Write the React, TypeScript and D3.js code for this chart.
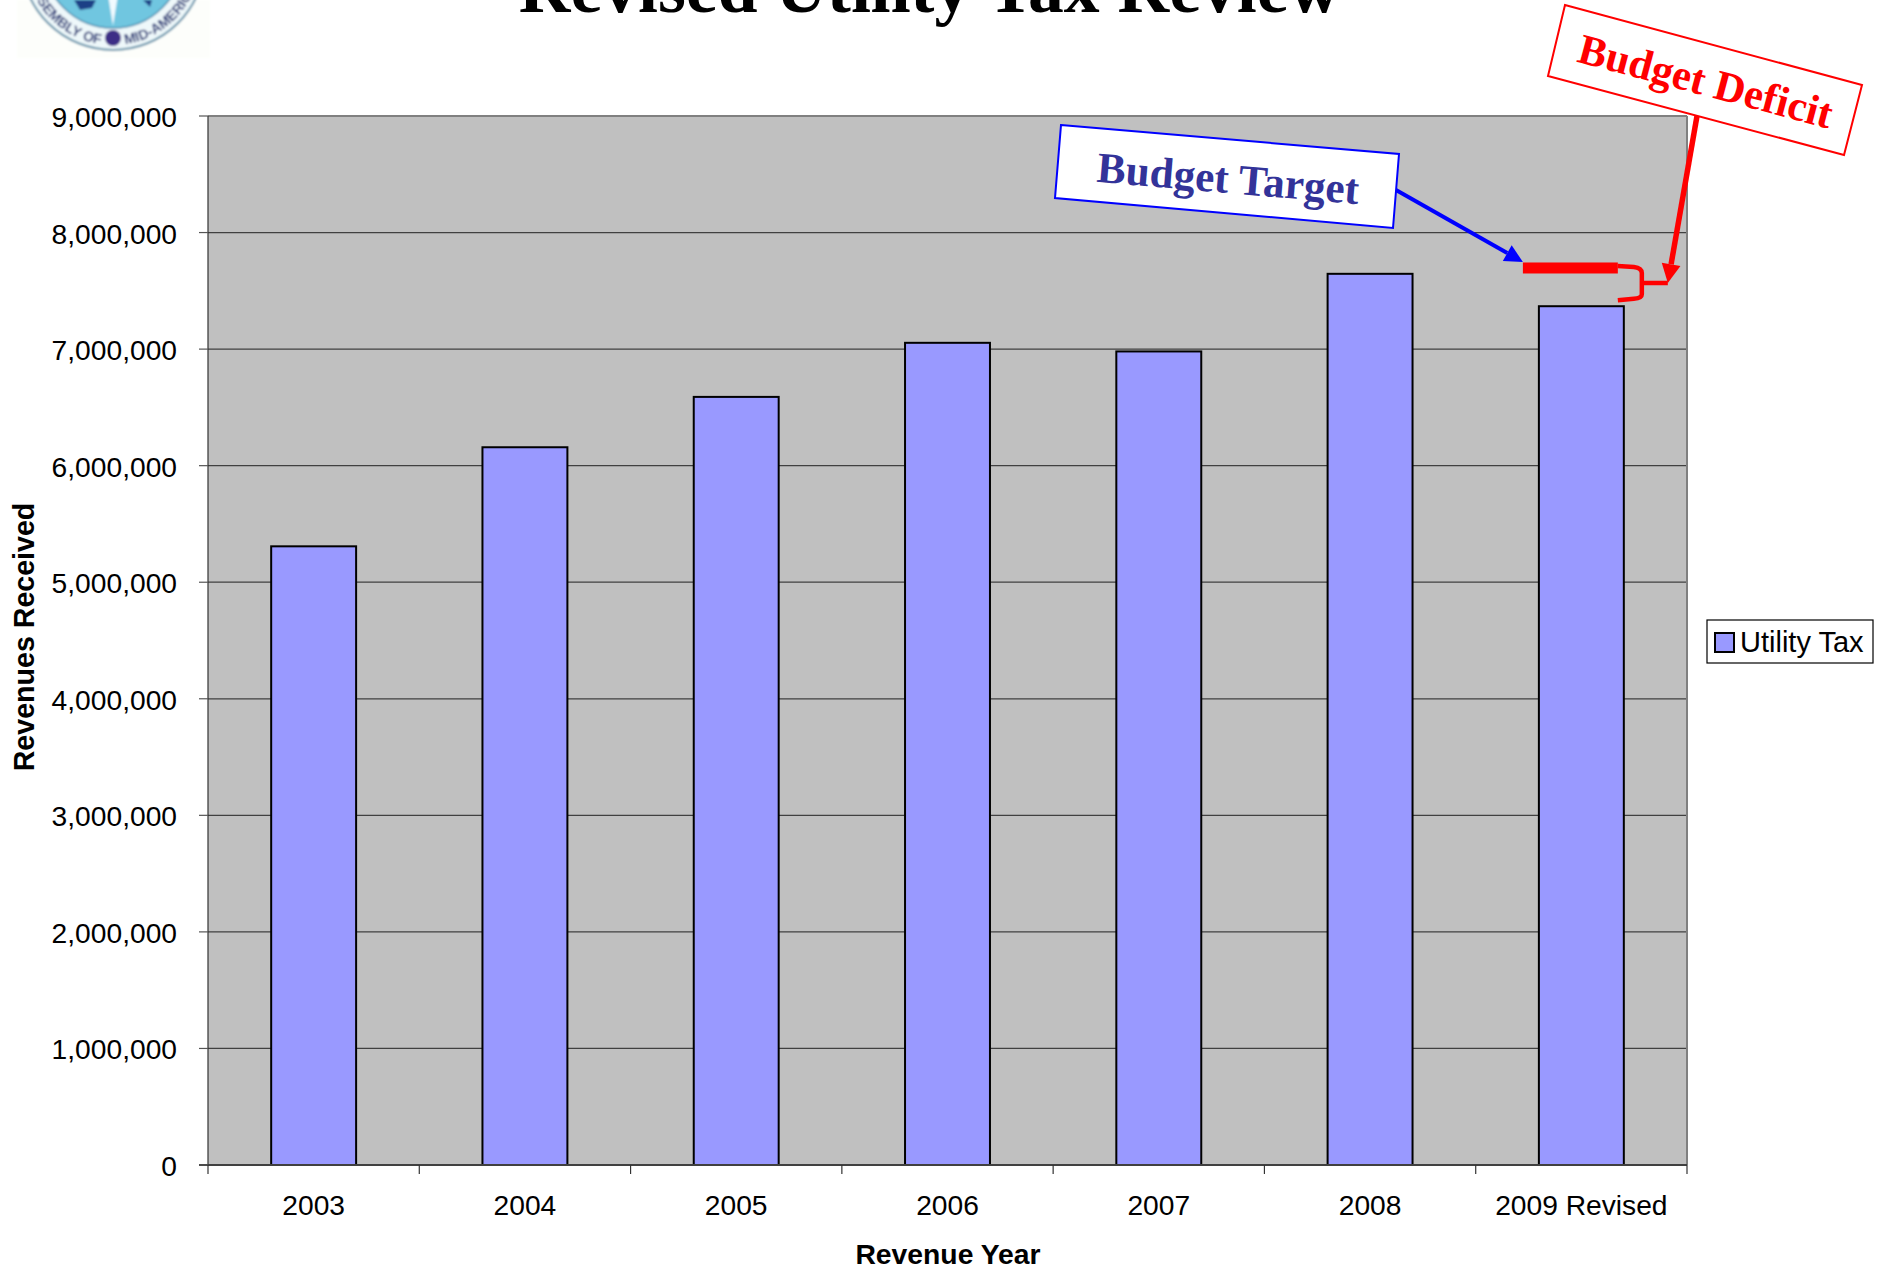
import React from "react";
import * as d3 from "d3";

const years = ["2003", "2004", "2005", "2006", "2007", "2008", "2009 Revised"];
const utilityTax = [5308000, 6158000, 6590000, 7054000, 6980000, 7646000, 7368000];
const budgetTarget = 7696000;
const yTicks = [0, 1000000, 2000000, 3000000, 4000000, 5000000, 6000000, 7000000, 8000000, 9000000];

const W = 1881;
const H = 1269;
const plot = { left: 208, right: 1687, top: 116, bottom: 1165 };

const x = d3.scaleBand<string>().domain(years).range([plot.left, plot.right]).paddingInner(0.598).paddingOuter(0.299);
const y = d3.scaleLinear().domain([0, 9000000]).range([plot.bottom, plot.top]);
const fmt = d3.format(",");
const step = x.step();

const SANS = "'Liberation Sans', Arial, sans-serif";
const SERIF = "'Liberation Serif', 'Times New Roman', serif";
const TICK_SIZE = 28.2;

function Arrow({ x1, y1, x2, y2, color, width, head, spread }: any) {
  // Straight line ending in a filled triangular head whose tip sits at (x2, y2)
  const a = Math.atan2(y2 - y1, x2 - x1);
  const bx = x2 - head * Math.cos(a);
  const by = y2 - head * Math.sin(a);
  const nx = -Math.sin(a) * spread;
  const ny = Math.cos(a) * spread;
  return (
    <g>
      <line x1={x1} y1={y1} x2={bx} y2={by} stroke={color} strokeWidth={width} />
      <polygon points={`${x2},${y2} ${bx + nx},${by + ny} ${bx - nx},${by - ny}`} fill={color} />
    </g>
  );
}

function Seal() {
  const cx = 113;
  const cy = -42;
  const r = 87;
  return (
    <g filter="url(#sealSoft)">
      <rect x={17} y={0} width={193} height={58} fill="#fdfefb" />
      <circle cx={cx} cy={cy} r={92} fill="#eef8fa" stroke="#5f8fa8" strokeWidth={2} />
      <circle cx={cx} cy={cy} r={70} fill="#6fc6e0" stroke="#4f8fb0" strokeWidth={1.5} />
      <path d="M113 26 L108 -5 L118 -5 Z" fill="#f2fbff" />
      <path d="M74 0 L96 0 L92 8 L80 10 Z" fill="#1f3f86" />
      <path d="M143 0 L152 0 L150 7 Z" fill="#1f3f86" />
      <circle cx={cx} cy={38} r={8} fill="#3d2f86" />
      <path id="sealRing" d={`M ${cx - r} ${cy} A ${r} ${r} 0 0 0 ${cx + r} ${cy}`} fill="none" />
      <text fontFamily={SANS} fontWeight={700} fontSize={14} fill="#2c3a78">
        <textPath href="#sealRing" startOffset="45.5%" textAnchor="end">
          ASSEMBLY OF
        </textPath>
      </text>
      <text fontFamily={SANS} fontWeight={700} fontSize={14} fill="#2c3a78">
        <textPath href="#sealRing" startOffset="54.5%" textAnchor="start">
          MID-AMERICA
        </textPath>
      </text>
    </g>
  );
}

export default function App() {
  const lastBar = x(years[6])! as number;
  const barW = x.bandwidth();
  const targetY = y(budgetTarget);
  const lastTop = y(utilityTax[6]);
  const targetLeft = lastBar - 16;
  const targetRight = lastBar + barW - 6;
  const braceX = targetRight + 24;
  const braceMid = targetY + 15;
  const braceTip = braceX + 26;

  return (
    <svg
      width={W}
      height={H}
      viewBox={`0 0 ${W} ${H}`}
      style={{ position: "absolute", left: 0, top: 0, display: "block", background: "#fff" }}
    >
      <defs>
        <filter id="sealSoft" x="-5%" y="-5%" width="110%" height="110%">
          <feGaussianBlur stdDeviation="0.8" />
        </filter>
      </defs>
      <Seal />
      <text x={929.5} y={12} textAnchor="middle" fontFamily={SERIF} fontWeight={700} fontSize={71.6} fill="#000">
        Revised Utility Tax Review
      </text>

      <rect x={plot.left} y={plot.top} width={plot.right - plot.left} height={plot.bottom - plot.top} fill="#c0c0c0" />

      {yTicks.slice(1, -1).map((t) => (
        <line key={t} x1={plot.left} x2={plot.right} y1={y(t)} y2={y(t)} stroke="#404040" strokeWidth={1.2} />
      ))}
      <line x1={plot.left} x2={plot.right} y1={plot.top} y2={plot.top} stroke="#808080" strokeWidth={2} />
      <line x1={plot.right} x2={plot.right} y1={plot.top} y2={plot.bottom} stroke="#808080" strokeWidth={2} />

      {years.map((c, i) => (
        <rect
          key={c}
          x={x(c)}
          y={y(utilityTax[i])}
          width={barW}
          height={plot.bottom - y(utilityTax[i])}
          fill="#9999ff"
          stroke="#000"
          strokeWidth={2}
        />
      ))}

      {/* Axes */}
      <line x1={plot.left} x2={plot.left} y1={plot.top} y2={plot.bottom} stroke="#333" strokeWidth={1.2} />
      <line x1={plot.left - 9} x2={plot.right} y1={plot.bottom} y2={plot.bottom} stroke="#404040" strokeWidth={2} />
      {yTicks.map((t) => (
        <g key={t}>
          <line x1={plot.left - 9} x2={plot.left} y1={y(t)} y2={y(t)} stroke="#555" strokeWidth={1.2} />
          <text x={177} y={y(t) + 11} textAnchor="end" fontFamily={SANS} fontSize={TICK_SIZE} fill="#000">
            {fmt(t)}
          </text>
        </g>
      ))}
      {d3.range(years.length + 1).map((i) => (
        <line
          key={i}
          x1={plot.left + i * step}
          x2={plot.left + i * step}
          y1={plot.bottom}
          y2={plot.bottom + 9}
          stroke="#333"
          strokeWidth={1.2}
        />
      ))}
      {years.map((c) => (
        <text
          key={c}
          x={(x(c) as number) + barW / 2}
          y={1215}
          textAnchor="middle"
          fontFamily={SANS}
          fontSize={TICK_SIZE}
          fill="#000"
        >
          {c}
        </text>
      ))}

      <text x={948} y={1264} textAnchor="middle" fontFamily={SANS} fontWeight={700} fontSize={28.3} fill="#000">
        Revenue Year
      </text>
      <text
        transform="translate(34,637) rotate(-90)"
        textAnchor="middle"
        fontFamily={SANS}
        fontWeight={700}
        fontSize={28.6}
        fill="#000"
      >
        Revenues Received
      </text>

      {/* Legend */}
      <rect x={1707} y={620} width={166} height={43} fill="#fff" stroke="#000" strokeWidth={1.2} />
      <rect x={1715} y={633} width={19} height={19} fill="#9999ff" stroke="#000" strokeWidth={2} />
      <text x={1740} y={652} fontFamily={SANS} fontSize={29} fill="#000">
        Utility Tax
      </text>

      {/* Budget target callout */}
      <polygon points="1061,125 1399,154 1393,228 1055,198" fill="#fff" stroke="#0000ff" strokeWidth={2} />
      <text
        transform="translate(1227,193) rotate(4.9)"
        textAnchor="middle"
        fontFamily={SERIF}
        fontWeight={700}
        fontSize={43.2}
        fill="#333399"
      >
        Budget Target
      </text>
      <Arrow x1={1396} y1={190} x2={targetLeft} y2={targetY - 6} color="#0000ff" width={4} head={18} spread={9} />

      {/* Target marker and the brace showing the shortfall */}
      <rect x={targetLeft} y={targetY - 5.5} width={targetRight - targetLeft} height={11} fill="#ff0000" />
      <path
        d={`M ${targetRight} ${targetY - 2} L ${braceX - 8} ${targetY - 1} Q ${braceX} ${targetY} ${braceX} ${targetY + 5} L ${braceX} ${braceMid} L ${braceTip} ${braceMid}
            M ${braceX} ${braceMid} L ${braceX} ${lastTop - 12} Q ${braceX} ${lastTop - 8} ${braceX - 8} ${lastTop - 7.5} L ${targetRight} ${lastTop - 6}`}
        fill="none"
        stroke="#ff0000"
        strokeWidth={4.5}
      />

      {/* Budget deficit callout */}
      <polygon points="1565,5 1862,85 1844,155 1548,76" fill="#fff" stroke="#ff0000" strokeWidth={2} />
      <text
        transform="translate(1702,95) rotate(14.9)"
        textAnchor="middle"
        fontFamily={SERIF}
        fontWeight={700}
        fontSize={42.6}
        fill="#ff0000"
      >
        Budget Deficit
      </text>
      <Arrow x1={1697} y1={116} x2={braceTip} y2={braceMid} color="#ff0000" width={5.5} head={19} spread={9.5} />
    </svg>
  );
}
